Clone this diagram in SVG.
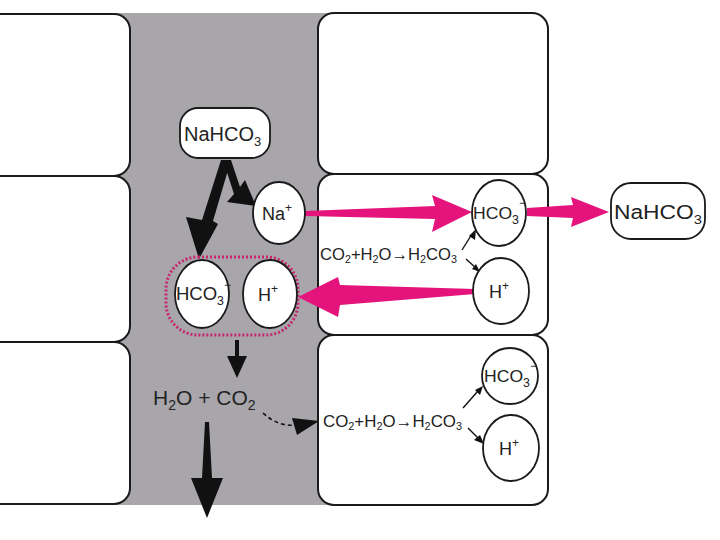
<svg xmlns="http://www.w3.org/2000/svg" width="720" height="540" viewBox="0 0 720 540">
<defs>
<style>
.cell{fill:#fff;stroke:#1a1a1a;stroke-width:2}
.ion{fill:#fff;stroke:#1a1a1a;stroke-width:1.8}
.t{font-family:"Liberation Sans",Arial,sans-serif;fill:#222}
.mag{fill:#e4147c}
.blk{fill:#111}
.thin{stroke:#111;stroke-width:1.4;fill:none}
</style>
</defs>
<rect width="720" height="540" fill="#fff"/>
<rect x="110" y="13" width="232" height="492" fill="#a9a6ab"/>
<g id="cells">
<rect class="cell" x="-20" y="14" width="150" height="162" rx="16"/>
<rect class="cell" x="-20" y="176" width="150" height="166" rx="16"/>
<rect class="cell" x="-20" y="342" width="150" height="162" rx="16"/>
<rect class="cell" x="318" y="13" width="230" height="161" rx="16"/>
<rect class="cell" x="318" y="174" width="230" height="161" rx="16"/>
<rect class="cell" x="318" y="335" width="230" height="170" rx="16"/>
</g>
<g id="connectors">
<polygon class="blk" points="221,160 231,160 213,221 218,224 199,259 186,217 202,220"/>
<polygon class="blk" points="223,160 231,160 240,187 245,180 256,206 227,202 234,194"/>
<polygon class="mag" points="305,211 435,206 432,195 472,212 432,232 435,219 305,216"/>
<polygon class="mag" points="475,289 340,285 338,277 298,297 338,317 340,305 475,294"/>
<polygon class="mag" points="527,208 573,205 571,197 609,212 571,227 573,218 527,216"/>
<polygon class="blk" points="235,340 239,340 239,356 247,356 237,378 227,356 235,356"/>
<polygon class="blk" points="205,422 209,422 212,478 223,478 207,518 191,478 202,478"/>
<path d="M263,413 Q278,427 296,425" stroke="#111" stroke-width="1.6" stroke-dasharray="4,3" fill="none"/>
<polygon class="blk" points="292,418 319,421 297,435"/>
<line class="thin" x1="462" y1="250" x2="472" y2="234"/>
<polygon class="blk" points="469,236 476,229 475,240"/>
<line class="thin" x1="466" y1="259" x2="476" y2="268"/>
<polygon class="blk" points="472,269 480,272 476,264"/>
<line class="thin" x1="463" y1="408" x2="478" y2="391"/>
<polygon class="blk" points="475,390 483,386 480,395"/>
<line class="thin" x1="468" y1="428" x2="479" y2="439"/>
<polygon class="blk" points="474,440 484,444 480,435"/>
</g>
<g id="nahco3-blood">
<rect class="ion" x="180" y="108" width="90" height="50" rx="18"/>
<text class="t" x="184" y="141" font-size="20">NaHCO<tspan font-size="13" dy="5">3</tspan></text>
</g>
<g id="na-ion">
<ellipse class="ion" cx="279" cy="213" rx="26" ry="31"/>
<text class="t" x="262" y="220" font-size="18">Na<tspan font-size="12" dy="-8">+</tspan></text>
</g>
<g id="pair">
<rect x="166" y="257" width="132" height="78" rx="32" fill="none" stroke="#c8246f" stroke-width="3" stroke-dasharray="2,2"/>
<ellipse class="ion" cx="202" cy="294" rx="27" ry="34"/>
<text class="t" x="176" y="300" font-size="18" textLength="48" lengthAdjust="spacingAndGlyphs">HCO<tspan font-size="12" dy="5">3</tspan></text>
<text class="t" x="224" y="289" font-size="12">−</text>
<ellipse class="ion" cx="270" cy="294" rx="27" ry="34"/>
<text class="t" x="258" y="301" font-size="18">H<tspan font-size="12" dy="-8">+</tspan></text>
</g>
<g id="h2o-co2">
<text class="t" x="153" y="405" font-size="21" fill="#333">H<tspan font-size="14" dy="5">2</tspan><tspan dy="-5">O + CO</tspan><tspan font-size="14" dy="5">2</tspan></text>
</g>
<g id="cell-mid">
<text class="t" x="320" y="260" font-size="17" textLength="137" lengthAdjust="spacingAndGlyphs">CO<tspan font-size="11" dy="3">2</tspan><tspan dy="-3">+H</tspan><tspan font-size="11" dy="3">2</tspan><tspan dy="-3">O→H</tspan><tspan font-size="11" dy="3">2</tspan><tspan dy="-3">CO</tspan><tspan font-size="11" dy="3">3</tspan></text>
<ellipse class="ion" cx="499" cy="213" rx="27" ry="33"/>
<text class="t" x="473" y="219" font-size="17" textLength="46" lengthAdjust="spacingAndGlyphs">HCO<tspan font-size="12" dy="5">3</tspan></text>
<text class="t" x="519" y="207" font-size="12">−</text>
<ellipse class="ion" cx="501" cy="291" rx="28" ry="33"/>
<text class="t" x="489" y="298" font-size="18">H<tspan font-size="12" dy="-8">+</tspan></text>
</g>
<g id="nahco3-out">
<rect class="ion" x="611" y="183" width="94" height="56" rx="20"/>
<text class="t" x="614" y="219" font-size="20" textLength="88" lengthAdjust="spacingAndGlyphs">NaHCO<tspan font-size="13" dy="5">3</tspan></text>
</g>
<g id="cell-bottom">
<text class="t" x="323" y="427" font-size="17" textLength="139" lengthAdjust="spacingAndGlyphs">CO<tspan font-size="11" dy="3">2</tspan><tspan dy="-3">+H</tspan><tspan font-size="11" dy="3">2</tspan><tspan dy="-3">O→H</tspan><tspan font-size="11" dy="3">2</tspan><tspan dy="-3">CO</tspan><tspan font-size="11" dy="3">3</tspan></text>
<ellipse class="ion" cx="510" cy="376" rx="28" ry="28"/>
<text class="t" x="484" y="382" font-size="17" textLength="46" lengthAdjust="spacingAndGlyphs">HCO<tspan font-size="12" dy="5">3</tspan></text>
<text class="t" x="530" y="370" font-size="12">−</text>
<ellipse class="ion" cx="511" cy="448" rx="28" ry="33"/>
<text class="t" x="499" y="455" font-size="18">H<tspan font-size="12" dy="-8">+</tspan></text>
</g>
</svg>
